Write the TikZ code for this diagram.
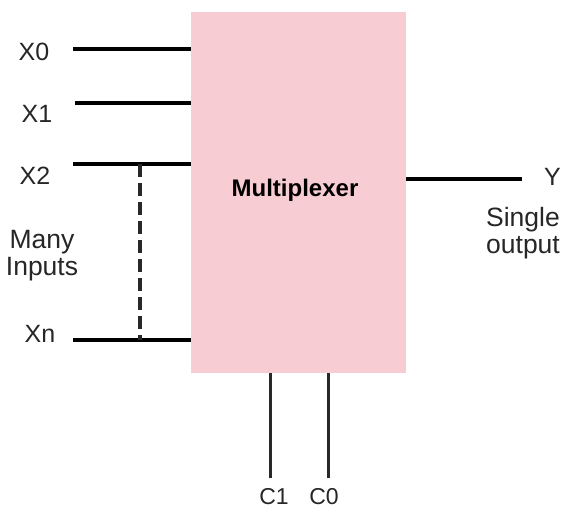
\documentclass[tikz,border=0pt]{standalone}
\usepackage{fontspec}
\setmainfont{Liberation Sans}
\definecolor{muxpink}{RGB}{247,204,210}
\definecolor{wiregray}{RGB}{40,40,40}
\begin{document}
\begin{tikzpicture}[x=1pt,y=-1pt,
  wire/.style={line width=3.5pt,black},
  cwire/.style={line width=3pt,wiregray},
  lbl/.style={inner sep=0pt,font=\fontsize{25}{29}\selectfont,text=black!85},
  twoline/.style={lbl,align=center,font=\fontsize{26.5}{27}\selectfont},
  muxbox/.style={fill=muxpink,draw=none,minimum width=215pt,minimum height=361pt,inner sep=0pt}]
\useasboundingbox (0,0) rectangle (567,512);
\node[muxbox] (mux) at (298.5,192.5) {};
\node[inner sep=0pt,font=\bfseries\fontsize{24}{28}\selectfont] (title) at (295,190) {Multiplexer};
% input wire ends
\coordinate (a0) at (73,49);  \coordinate (b0) at (191,49);
\coordinate (a1) at (75,103); \coordinate (b1) at (191,103);
\coordinate (a2) at (73,164); \coordinate (b2) at (191,164);
\coordinate (an) at (73,340); \coordinate (bn) at (191,340);
\draw[wire] (a0) -- (b0);
\draw[wire] (a1) -- (b1);
\draw[wire] (a2) -- (b2);
\draw[wire] (an) -- (bn);
\coordinate (d1) at (140,164); \coordinate (d2) at (140,340);
\draw[line width=4pt,wiregray,dash pattern=on 13pt off 6pt] (d1) -- (d2);
% output
\coordinate (o1) at (406,179); \coordinate (o2) at (522,179);
\draw[wire] (o1) -- (o2);
% control lines
\coordinate (c1a) at (270,373); \coordinate (c1b) at (270,478);
\coordinate (c0a) at (328,373); \coordinate (c0b) at (328,478);
\draw[cwire] (c1a) -- (c1b);
\draw[cwire] (c0a) -- (c0b);
% labels
\node[lbl] (lx0) at (34,52) {X0};
\node[lbl] (lx1) at (37,114) {X1};
\node[lbl] (lx2) at (35,176) {X2};
\node[lbl] (lxn) at (40,334) {Xn};
\node[twoline] (many) at (42,256) {Many\\Inputs};
\node[lbl,anchor=west] (ly) at (544,177) {Y};
\node[twoline] (single) at (523,233) {Single\\output};
\node[lbl,font=\fontsize{23}{27}\selectfont] (lc1) at (274,497) {C1};
\node[lbl,font=\fontsize{23}{27}\selectfont] (lc0) at (324,497) {C0};
\end{tikzpicture}
\end{document}
